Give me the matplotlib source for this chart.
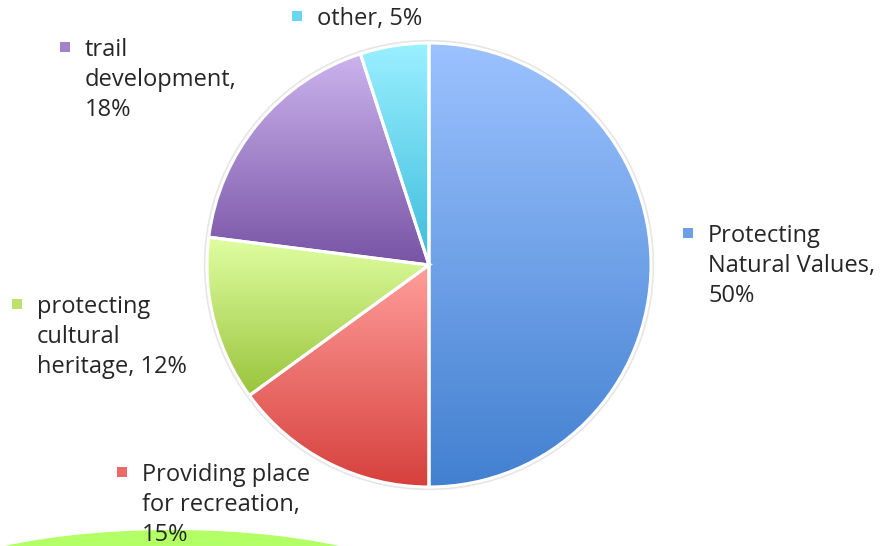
import numpy as np
import matplotlib
matplotlib.use("Agg")
import matplotlib.pyplot as plt
from matplotlib.patches import Rectangle, Ellipse, Circle
from matplotlib.colors import LinearSegmentedColormap

labels = ["Protecting\nNatural Values,\n50%", "Providing place\nfor recreation,\n15%",
          "protecting\ncultural\nheritage, 12%", "trail\ndevelopment,\n18%", "other, 5%"]
values = [50, 15, 12, 18, 5]
top_colors = ["#9cc2ff", "#ff9e9b", "#e0ffa2", "#ccb4ee", "#9af0ff"]
bottom_colors = ["#4280d0", "#d6403c", "#9ac43c", "#7853a5", "#3cbcdc"]
mid_colors = ["#6c9fe6", "#ec6b68", "#bde06e", "#a283cb", "#67d6ef"]

W, H = 880, 546
fig = plt.figure(figsize=(W / 100, H / 100), dpi=100)
fig.patch.set_facecolor("white")

def fx(px):
    return px / W

def fy(py):
    return 1 - py / H

# decorative green shape at bottom
bg = fig.add_axes([0, 0, 1, 1], zorder=0)
bg.set_xlim(0, W)
bg.set_ylim(H, 0)
bg.axis("off")
bg.add_patch(Ellipse((172, 604), 540, 148, facecolor="#b2ff66", edgecolor="none"))

cx, cy, r = 429, 265, 222
ax = fig.add_axes([fx(cx - r), fy(cy + r), 2 * r / W, 2 * r / H], zorder=1)
ax.set_aspect("equal")
wedges, _ = ax.pie(values, startangle=90, counterclock=False, radius=1,
                   wedgeprops=dict(edgecolor="white", linewidth=2.2))
# soft shadow ring
ring = Circle((0, 0), 1.008, facecolor="none", edgecolor="#e6e6e6", linewidth=2.0, zorder=0)
ring.set_clip_on(False)
ax.add_patch(ring)
for w, ct, cb in zip(wedges, top_colors, bottom_colors):
    w.set_facecolor("none")
    w.set_zorder(3)
    w.set_clip_on(False)
    verts = w.get_path().vertices
    x0, x1 = verts[:, 0].min(), verts[:, 0].max()
    y0, y1 = verts[:, 1].min(), verts[:, 1].max()
    cmap = LinearSegmentedColormap.from_list("g", [cb, ct])
    grad = np.linspace(0, 1, 256).reshape(-1, 1)
    im = ax.imshow(grad, cmap=cmap, extent=[x0, x1, y0, y1], origin="lower",
                   aspect="auto", zorder=2, interpolation="bilinear")
    im.set_clip_path(w)
ax.set_xlim(-1.0, 1.0)
ax.set_ylim(-1.0, 1.0)
ax.axis("off")

# labels: (marker x, marker center y, text x)
label_pos = [(683, 233, 708), (117, 472, 142), (12, 304, 37), (60, 47, 85), (292, 16, 317)]
for (mx, my, tx), lab, mc in zip(label_pos, labels, mid_colors):
    bg.add_patch(Rectangle((mx, my - 5), 10, 10, facecolor=mc, edgecolor="none"))
    for i, line in enumerate(lab.split("\n")):
        bg.text(tx, my + 9 + 30 * i, line, fontsize=17, family=["Open Sans", "DejaVu Sans"],
                color="#262626", va="baseline", ha="left")

fig.savefig("out.png", dpi=100)
